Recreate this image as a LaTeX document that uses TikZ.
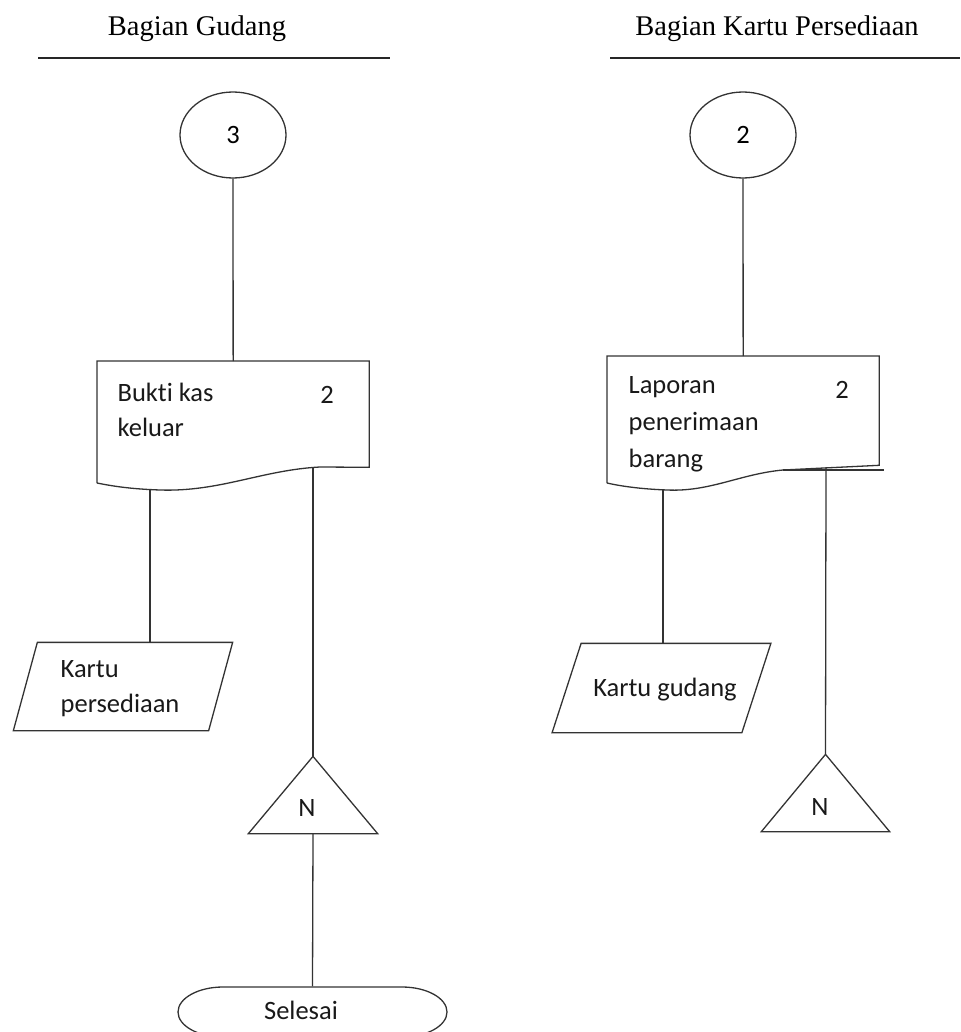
\documentclass[tikz,border=0pt]{standalone}
\usepackage{fontspec}
\setmainfont{Liberation Serif}
\newfontfamily\bodyfont[Ligatures=NoCommon]{Carlito}
\usetikzlibrary{calc,shapes.geometric}

\begin{document}
\begin{tikzpicture}[x=1pt,y=-1pt,
  line width=1.3pt,
  ink/.style={draw=black!80},
  lane/.style={font=\fontsize{28.5}{34}\selectfont, inner sep=0, anchor=base},
  lbl/.style={font=\bodyfont\fontsize{26.5}{35}\selectfont, align=left, inner sep=0, text=black!90},
  frame/.style={draw=none, inner sep=0, rectangle},
  oncircle/.style={draw=black!80, ellipse, inner sep=0, minimum width=106pt, minimum height=86pt,
                   font=\bodyfont\fontsize{26.5}{35}\selectfont},
  conn/.style={draw=black!80, line width=1.3pt}
]
\useasboundingbox (0,0) rectangle (960,1032);

% ---- lane headings ----
\node[lane] (h1) at (197,36) {Bagian Gudang};
\node[lane] (h2) at (777,36) {Bagian Kartu Persediaan};
\coordinate (r1a) at (38,58);  \coordinate (r1b) at (390,58);
\coordinate (r2a) at (610,58); \coordinate (r2b) at (960,58);
\draw[black!85] (r1a) -- (r1b);
\draw[black!85] (r2a) -- (r2b);

% ================= Bagian Gudang =================
\node[oncircle] (c3) at (233,135) {3};

% document: Bukti kas keluar
\node[frame, minimum width=271pt, minimum height=105pt, anchor=north west] (doc1) at (97,361) {};
\draw[ink] (97,483) -- (doc1.north west) -- (doc1.north east) -- (doc1.south east)
  -- (320,467) .. controls (262,470) and (220,492) .. (160,490)
  .. controls (130,489) and (112,486) .. (97,483);
% multi-line labels are anchored at the baseline of their last line
\node[lbl, anchor=base west] (doc1t) at (117,436) {Bukti kas\\keluar};
\node[lbl, anchor=base] (doc1n) at (327,403) {2};
\coordinate (w1) at (150,489);
\coordinate (w2) at (313,467);

% input/output: Kartu persediaan
\node[frame, minimum width=194pt, minimum height=87pt] (kp1) at (123,686.5) {};
\draw[ink] ([xshift=12pt]kp1.north west) -- ([xshift=12pt]kp1.north east)
  -- ([xshift=-12pt]kp1.south east) -- ([xshift=-12pt]kp1.south west) -- cycle;
\node[lbl, anchor=base west] (kp1t) at (60,712) {Kartu\\persediaan};

% off-page file N
\node[frame, minimum width=128pt, minimum height=76pt] (t1) at (313,795) {};
\draw[ink] (t1.south west) -- (t1.north) -- (t1.south east) -- cycle;
\node[lbl, anchor=base] (t1t) at (307,816) {N};

% terminator: Selesai
\node[frame, minimum width=269pt, minimum height=50pt] (end) at (312.5,1012) {};
\draw[ink] (223,987) -- (402,987) arc(-90:90:45 and 25) -- (223,1037) arc(90:270:45 and 25);
\node[lbl, anchor=base] (endt) at (301,1019) {Selesai};

% connectors
\draw[conn] (c3) -- (doc1.north);
\draw[conn] (w1) -- (w1 |- kp1.north);
\draw[conn] (w2) -- (t1.north);
\draw[conn] (t1.south) -- (end.north);

% ================= Bagian Kartu Persediaan =================
\node[oncircle] (c2) at (743,135) {2};

% document: Laporan penerimaan barang
\node[frame, minimum width=271pt, minimum height=108pt, anchor=north west] (doc2) at (607,356) {};
\draw[ink] (607,483) -- (doc2.north west) -- (doc2.north east) -- (doc2.south east)
  -- (783,470) .. controls (740,474) and (710,492) .. (667,490)
  .. controls (640,489) and (620,486) .. (607,483);
\coordinate (x1) at (783,470); \coordinate (x2) at (884,470);
\draw[ink] (x1) -- (x2);
\node[lbl, anchor=base west, font=\bodyfont\fontsize{26.5}{37}\selectfont] (doc2t) at (628,467) {Laporan\\penerimaan\\barang};
\node[lbl, anchor=base] (doc2n) at (842,398) {2};
\coordinate (w3) at (663,490);
\coordinate (w4) at (826,467);

% input/output: Kartu gudang
\node[frame, minimum width=188.5pt, minimum height=88pt] (kg) at (661.5,688) {};
\draw[ink] ([xshift=14.5pt]kg.north west) -- ([xshift=14.5pt]kg.north east)
  -- ([xshift=-14.5pt]kg.south east) -- ([xshift=-14.5pt]kg.south west) -- cycle;
\node[lbl, anchor=base] (kgt) at (665,696) {Kartu gudang};

% off-page file N
\node[frame, minimum width=127pt, minimum height=76pt] (t2) at (825.5,793) {};
\draw[ink] (t2.south west) -- (t2.north) -- (t2.south east) -- cycle;
\node[lbl, anchor=base] (t2t) at (820,815) {N};

% connectors
\draw[conn] (c2) -- (doc2.north);
\draw[conn] (w3) -- (w3 |- kg.north);
\draw[conn] (w4) -- (t2.north);
\end{tikzpicture}
\end{document}
